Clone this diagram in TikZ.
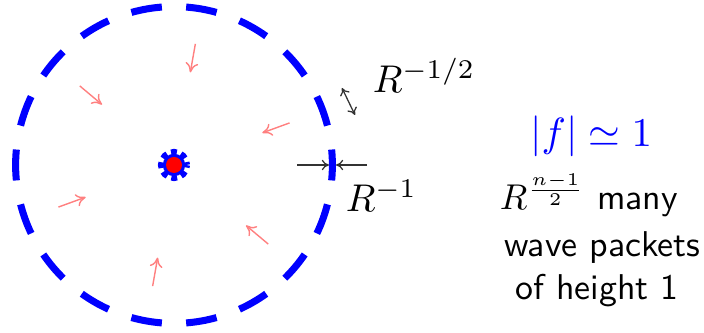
\documentclass[tikz,border=0pt]{standalone}
\usepackage{amsmath,amssymb}
\usetikzlibrary{arrows.meta}

\tikzset{
  packet/.style={red!50,line width=1pt,-{To[length=2.4mm,width=3.2mm]}},
  gauge/.style={black!80,line width=0.9pt},
  lbl/.style={anchor=base west,inner sep=0pt,scale=2.75},
  txt/.style={anchor=base,inner sep=0pt,font=\sffamily,scale=2.55}
}

\begin{document}
\begin{tikzpicture}
  \useasboundingbox (0,0) rectangle (17.6,8.325);
  \def\R{3.96}
  \coordinate (ctr) at (4.35,4.2);

  % big dashed circle: 18 blue pieces
  \foreach \a [evaluate=\a as \s using \a-5.6, evaluate=\a as \e using \a+5.6] in {0,20,...,340} {
    \draw[blue,line width=5pt] ([shift={(\s:\R)}]ctr) arc[start angle=\s,end angle=\e,radius=\R];
  }

  % small blob in the middle
  \fill[blue] (ctr) circle (0.28);
  \draw[blue,line width=5.5pt,dash pattern=on 3.9pt off 2.9pt,dash phase=1.95pt] ([shift={(0:0.305)}]ctr) arc[start angle=0,end angle=360,radius=0.305];
  \fill[red] (ctr) circle (0.2);

  % incoming wave packets
  \foreach \a in {20,80,...,320} {
    \draw[packet] ([shift={(\a:3.075)}]ctr) -- ([shift={(\a:2.35)}]ctr);
  }

  % width and length of one piece
  \coordinate (lenA) at (8.55,6.125);
  \coordinate (lenB) at (8.875,5.45);
  \draw[gauge,{To[length=1.8mm,width=2.6mm]}-{To[length=1.8mm,width=2.6mm]}] (lenA) -- (lenB);
  \coordinate (wdA) at (7.425,4.2);
  \coordinate (wdB) at (8.225,4.2);
  \coordinate (wdC) at (9.175,4.2);
  \coordinate (wdD) at (8.4,4.2);
  \draw[gauge,-{To[length=1.8mm,width=2.6mm]}] (wdA) -- (wdB);
  \draw[gauge,-{To[length=1.8mm,width=2.6mm]}] (wdC) -- (wdD);

  \node[lbl] (halfR) at (9.3,6.0) {$R^{-1/2}$};
  \node[lbl] (invR) at (8.625,3.025) {$R^{-1}$};

  % right hand text
  \node[anchor=base,inner sep=0pt,text=blue,scale=2.9] (fsize) at (14.78,4.65) {$|f|\simeq 1$};
  \node[txt] (many) at (14.72,3.075) {$R^{\frac{n-1}{2}}$ many};
  \node[txt] (wave) at (15.06,1.9) {wave packets};
  \node[txt] (height) at (14.925,0.825) {of height 1};
\end{tikzpicture}
\end{document}
